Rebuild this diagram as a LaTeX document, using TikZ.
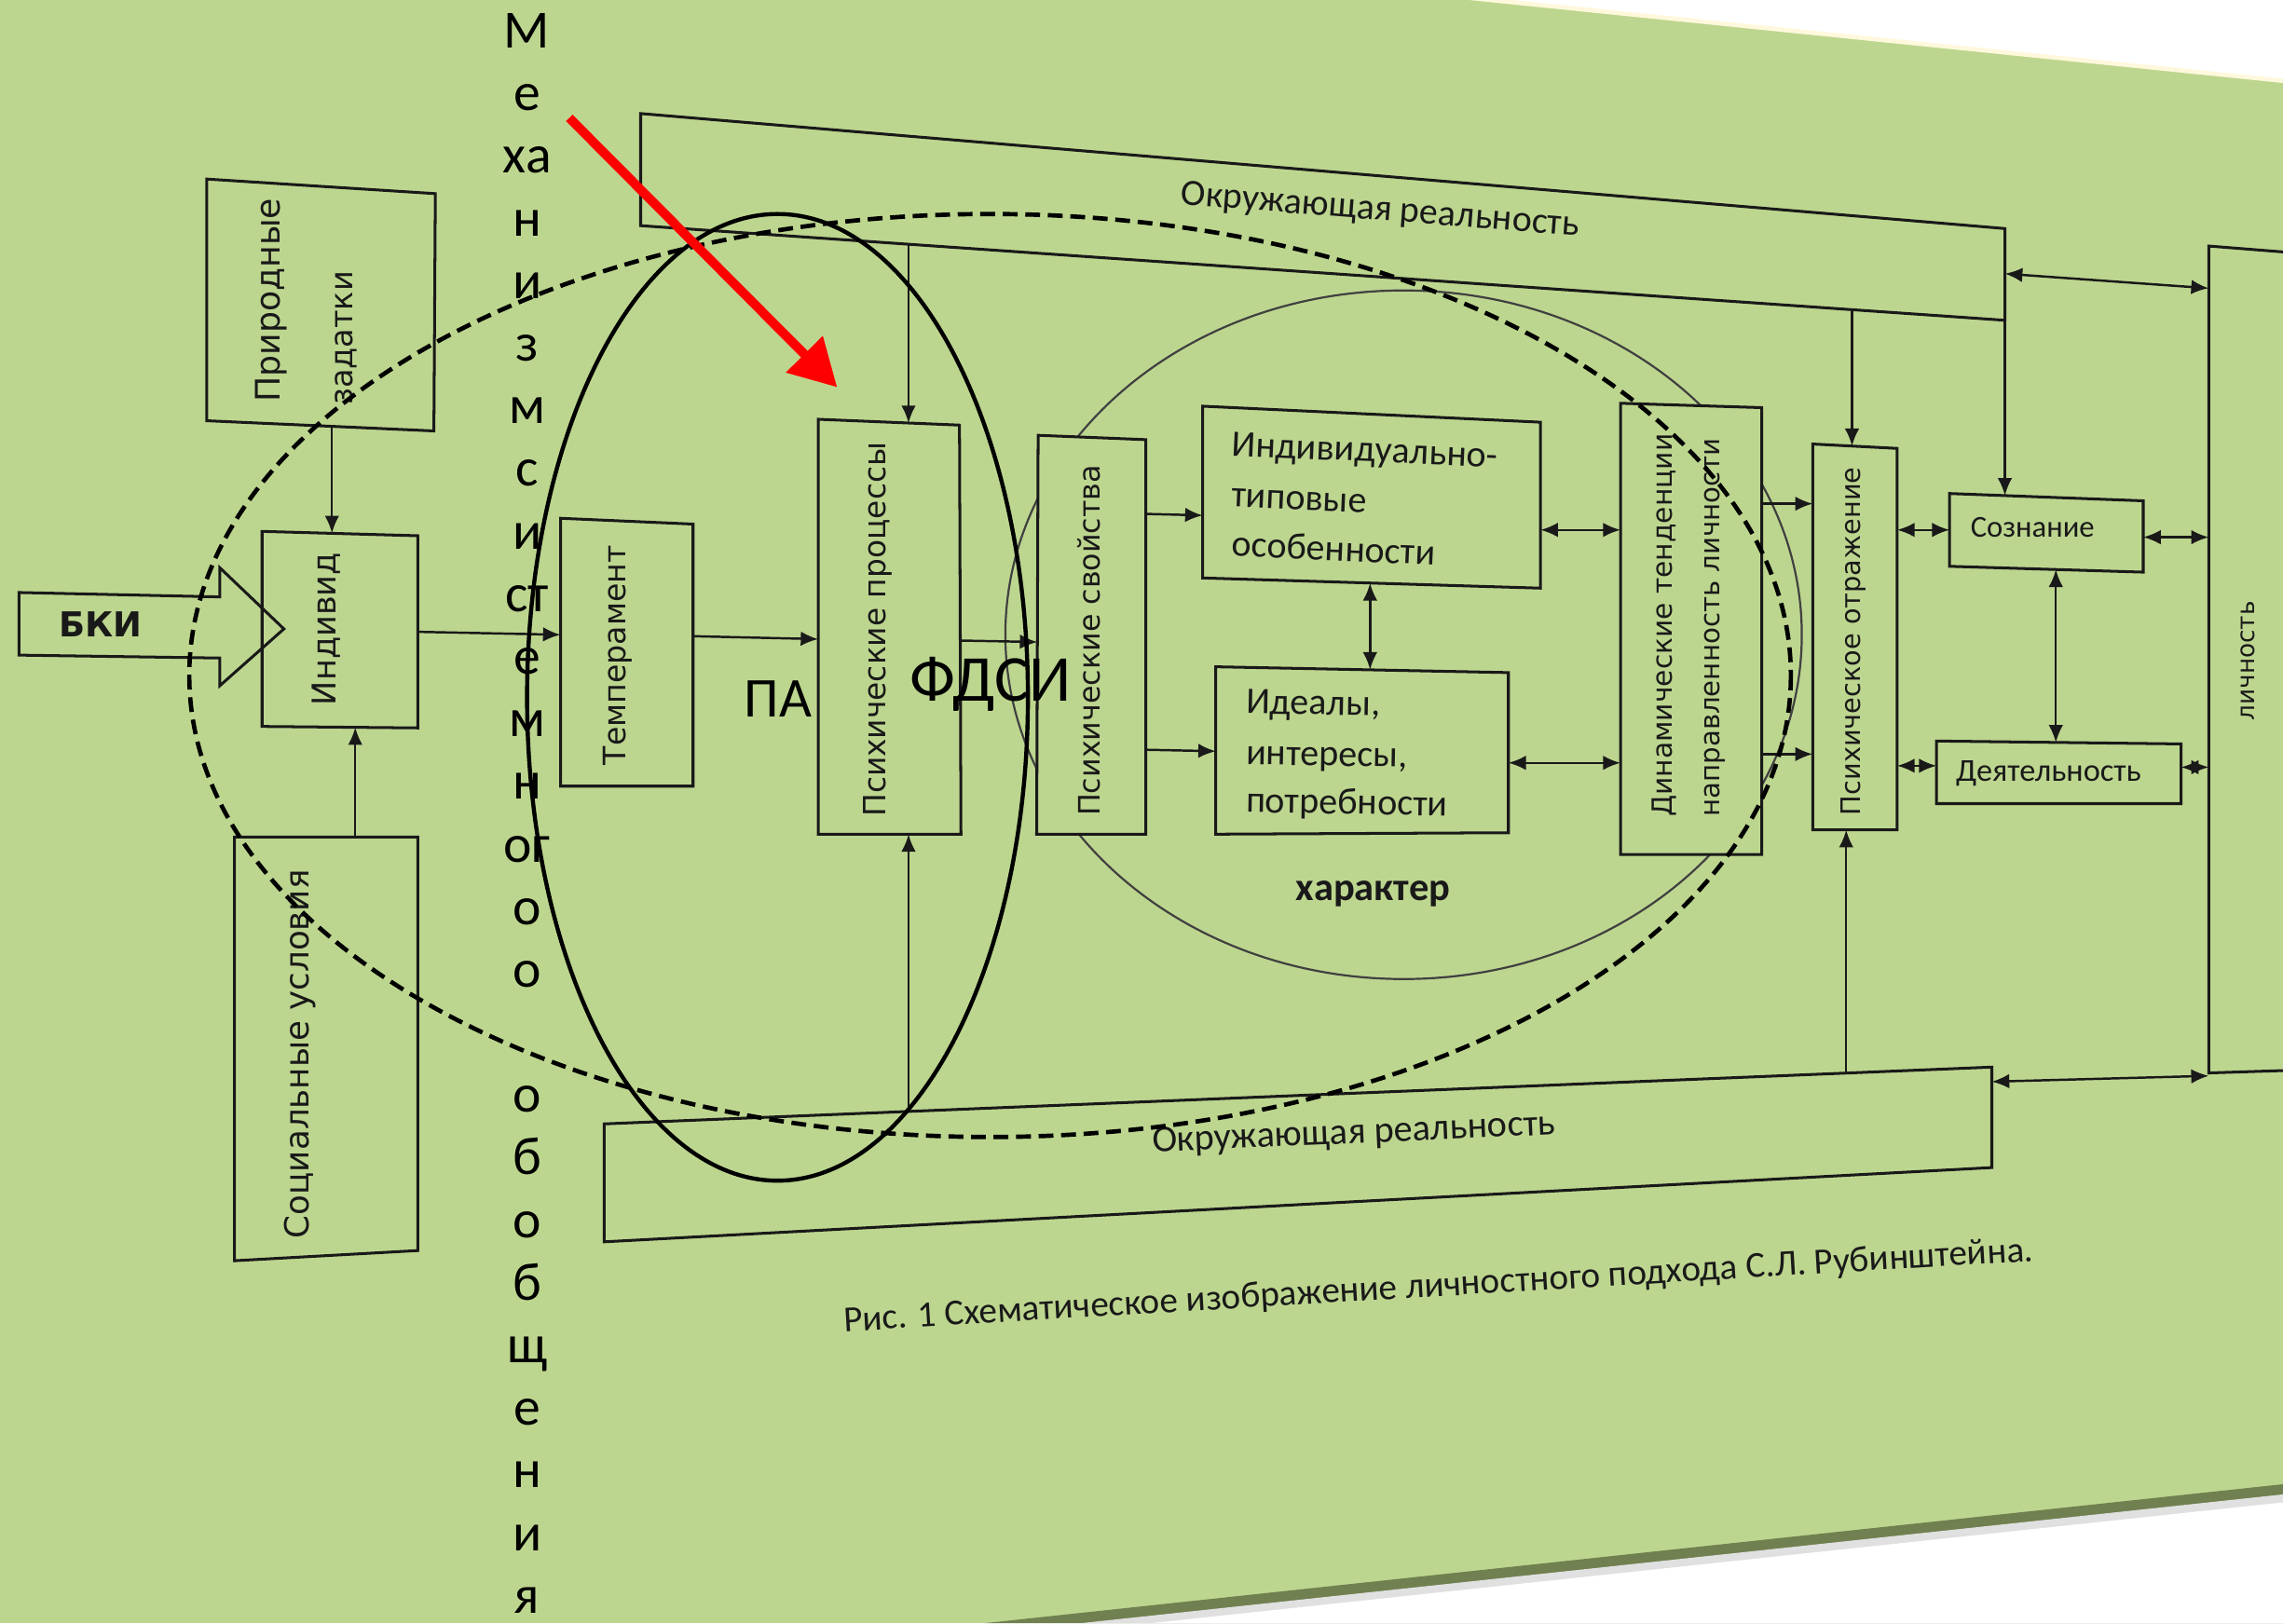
\documentclass[tikz,border=0pt]{standalone}
\usepackage{fontspec}
\usepackage{graphicx}
\setmainfont{Carlito}
\newfontfamily\dvfont{DejaVu Sans}
\usetikzlibrary{arrows.meta}
\definecolor{bg}{RGB}{189,214,143}
\definecolor{lc}{RGB}{25,25,25}
\definecolor{olivestrip}{RGB}{112,128,80}
\definecolor{creamline}{RGB}{255,248,220}
\newcommand{\fitw}[2]{\resizebox{#1}{!}{#2}}
\begin{document}
\begin{tikzpicture}[x=0.01cm,y=-0.01cm,
  box/.style={draw=lc,line width=0.55pt,fill=bg},
  conn/.style={draw=lc,line width=0.45pt,-{Latex[length=1.2mm,width=1mm]}},
  dconn/.style={draw=lc,line width=0.45pt,{Latex[length=1.2mm,width=1mm]}-{Latex[length=1.2mm,width=1mm]}},
  vtext/.style={rotate=90,inner sep=0pt,font=\dvfont,text=lc},
  htext/.style={inner sep=0pt,text=lc},
  mech/.style={inner sep=0pt,anchor=base,font=\fontsize{10.5}{12}\selectfont,text=black}
]
\useasboundingbox (0,0) rectangle (1568,1115);
% page background
\fill[bg] (0,0) rectangle (1568,1115);
\fill[creamline] (1009,0) -- (1568,0) -- (1568,57) -- cycle;
\fill[white] (1039,0) -- (1568,0) -- (1568,54) -- cycle;
\fill[olivestrip] (676,1115) -- (1568,1019.5) -- (1568,1115) -- cycle;
\fill[black!12] (742,1115) -- (1568,1026.5) -- (1568,1115) -- cycle;
\fill[white] (790,1115) -- (1568,1032) -- (1568,1115) -- cycle;

% character ellipse (behind boxes)
\draw[line width=0.4pt,draw=black!75] (964,436) ellipse [x radius=273.5, y radius=236.5];

% ---------- box corners ----------
\coordinate (top-tl) at (440,78);   \coordinate (top-tr) at (1377,157);
\coordinate (top-br) at (1377,220); \coordinate (top-bl) at (440,155);
\coordinate (bot-tl) at (415,772);  \coordinate (bot-tr) at (1368,733);
\coordinate (bot-br) at (1368,802); \coordinate (bot-bl) at (415,853);
\coordinate (pri-tl) at (142,123);  \coordinate (pri-tr) at (299,133);
\coordinate (pri-br) at (298,296);  \coordinate (pri-bl) at (142,289);
\coordinate (ind-tl) at (180,365);  \coordinate (ind-tr) at (287,368);
\coordinate (ind-br) at (287,500);  \coordinate (ind-bl) at (180,499);
\coordinate (soc-tl) at (161,575);  \coordinate (soc-tr) at (287,575);
\coordinate (soc-br) at (287,859);  \coordinate (soc-bl) at (161,866);
\coordinate (tem-tl) at (385,356);  \coordinate (tem-tr) at (476,360);
\coordinate (tem-br) at (476,540);  \coordinate (tem-bl) at (385,540);
\coordinate (pp-tl) at (562,288);   \coordinate (pp-tr) at (659,292);
\coordinate (pp-br) at (660,573);   \coordinate (pp-bl) at (562,573);
\coordinate (ps-tl) at (713,299);   \coordinate (ps-tr) at (787,302);
\coordinate (ps-br) at (787,573);   \coordinate (ps-bl) at (712,573);
\coordinate (ito-tl) at (826,279);  \coordinate (ito-tr) at (1058,290);
\coordinate (ito-br) at (1058,404); \coordinate (ito-bl) at (826,397);
\coordinate (id-tl) at (835,458);   \coordinate (id-tr) at (1036,462);
\coordinate (id-br) at (1036,572);  \coordinate (id-bl) at (835,573);
\coordinate (dyn-tl) at (1113,277); \coordinate (dyn-tr) at (1210,280);
\coordinate (dyn-br) at (1210,587); \coordinate (dyn-bl) at (1113,587);
\coordinate (po-tl) at (1245,305);  \coordinate (po-tr) at (1303,308);
\coordinate (po-br) at (1303,570);  \coordinate (po-bl) at (1245,570);
\coordinate (soz-tl) at (1339,339); \coordinate (soz-tr) at (1472,344);
\coordinate (soz-br) at (1472,393); \coordinate (soz-bl) at (1339,389);
\coordinate (dea-tl) at (1330,509); \coordinate (dea-tr) at (1498,511);
\coordinate (dea-br) at (1498,552); \coordinate (dea-bl) at (1330,552);
\coordinate (li-tl) at (1517,169);  \coordinate (li-bl) at (1517,737);
\coordinate (li-tr) at (1580,174);  \coordinate (li-brr) at (1580,735);

% ---------- boxes ----------
\draw[box] (top-tl) -- (top-tr) -- (top-br) -- (top-bl) -- cycle;
\draw[box] (bot-tl) -- (bot-tr) -- (bot-br) -- (bot-bl) -- cycle;
\draw[box] (pri-tl) -- (pri-tr) -- (pri-br) -- (pri-bl) -- cycle;
\draw[box] (ind-tl) -- (ind-tr) -- (ind-br) -- (ind-bl) -- cycle;
\draw[box] (soc-tl) -- (soc-tr) -- (soc-br) -- (soc-bl) -- cycle;
\draw[box] (tem-tl) -- (tem-tr) -- (tem-br) -- (tem-bl) -- cycle;
\draw[box] (pp-tl) -- (pp-tr) -- (pp-br) -- (pp-bl) -- cycle;
\draw[box] (ps-tl) -- (ps-tr) -- (ps-br) -- (ps-bl) -- cycle;
\draw[box] (ito-tl) -- (ito-tr) -- (ito-br) -- (ito-bl) -- cycle;
\draw[box] (id-tl) -- (id-tr) -- (id-br) -- (id-bl) -- cycle;
\draw[box] (dyn-tl) -- (dyn-tr) -- (dyn-br) -- (dyn-bl) -- cycle;
\draw[box] (po-tl) -- (po-tr) -- (po-br) -- (po-bl) -- cycle;
\draw[box] (soz-tl) -- (soz-tr) -- (soz-br) -- (soz-bl) -- cycle;
\draw[box] (dea-tl) -- (dea-tr) -- (dea-br) -- (dea-bl) -- cycle;
\draw[box] (li-tr) -- (li-tl) -- (li-bl) -- (li-brr);

% БКИ block arrow
\draw[draw=lc,line width=0.55pt,line join=miter]
  (13,407) -- (151,410) -- (151,390) -- (195,432) -- (151,471) -- (151,452) -- (13,450) -- cycle;

% ---------- connector end points ----------
\coordinate (pri-s) at (228,293);   \coordinate (ind-n) at (228,366.3);
\coordinate (soc-n) at (244,575);   \coordinate (ind-s) at (244,499.6);
\coordinate (ind-e) at (287,434);   \coordinate (tem-w) at (385,436);
\coordinate (tem-e) at (476,437);   \coordinate (pp-w) at (562,439);
\coordinate (top-s1) at (624,167.8); \coordinate (pp-n) at (624,290.6);
\coordinate (bot-n1) at (624,763.4); \coordinate (pp-s) at (624,573);
\coordinate (pp-e) at (660,440);    \coordinate (ps-w) at (712.5,441);
\coordinate (ps-e1) at (787,353);   \coordinate (ito-w) at (826,354);
\coordinate (ps-e2) at (787,515);   \coordinate (id-w) at (835,516);
\coordinate (ito-s) at (941,400.5); \coordinate (id-n) at (941,460);
\coordinate (ito-e) at (1058,364);  \coordinate (dyn-w1) at (1113,364);
\coordinate (id-e) at (1036,524);   \coordinate (dyn-w2) at (1113,524);
\coordinate (dyn-e1) at (1210,346); \coordinate (po-w1) at (1245,346);
\coordinate (dyn-e2) at (1210,518); \coordinate (po-w2) at (1245,518);
\coordinate (top-s2) at (1272,212.7); \coordinate (po-n) at (1272,306.4);
\coordinate (bot-n2) at (1268,737.1); \coordinate (po-s) at (1268,570);
\coordinate (soz-n) at (1377,340.4);
\coordinate (top-e) at (1377,188);  \coordinate (li-w1) at (1517,198);
\coordinate (po-e1) at (1303,364);  \coordinate (soz-w) at (1339,364);
\coordinate (soz-e) at (1472,369);  \coordinate (li-w2) at (1517,369);
\coordinate (soz-s) at (1412,391.2); \coordinate (dea-n) at (1412,510);
\coordinate (po-e2) at (1303,526);  \coordinate (dea-w) at (1330,526);
\coordinate (dea-e) at (1498,527);  \coordinate (li-w3) at (1517,527);
\coordinate (bot-e) at (1368,743);  \coordinate (li-w4) at (1517,739);

% ---------- connectors ----------
\draw[conn] (pri-s) -- (ind-n);
\draw[conn] (soc-n) -- (ind-s);
\draw[conn] (ind-e) -- (tem-w);
\draw[conn] (tem-e) -- (pp-w);
\draw[conn] (top-s1) -- (pp-n);
\draw[conn] (bot-n1) -- (pp-s);
\draw[conn] (pp-e) -- (ps-w);
\draw[conn] (ps-e1) -- (ito-w);
\draw[conn] (ps-e2) -- (id-w);
\draw[dconn] (ito-s) -- (id-n);
\draw[dconn] (ito-e) -- (dyn-w1);
\draw[dconn] (id-e) -- (dyn-w2);
\draw[conn] (dyn-e1) -- (po-w1);
\draw[conn] (dyn-e2) -- (po-w2);
\draw[conn] (top-s2) -- (po-n);
\draw[conn] (bot-n2) -- (po-s);
\draw[conn] (top-br) -- (soz-n);
\draw[dconn] (top-e) -- (li-w1);
\draw[dconn] (po-e1) -- (soz-w);
\draw[dconn] (soz-e) -- (li-w2);
\draw[dconn] (soz-s) -- (dea-n);
\draw[dconn] (po-e2) -- (dea-w);
\draw[dconn] (dea-e) -- (li-w3);
\draw[dconn] (bot-e) -- (li-w4);

% ---------- texts ----------
\node[vtext,anchor=west] (t-pri1) at (186,277) {\fitw{1.40cm}{Природные}};
\node[vtext,anchor=west] (t-pri2) at (238,279) {\fitw{0.92cm}{задатки}};
\node[vtext] (t-ind) at (224,432) {\fitw{1.05cm}{Индивид}};
\node[vtext] (t-soc) at (206,724) {\fitw{2.53cm}{Социальные условия}};
\node[vtext] (t-tem) at (424.5,450) {\fitw{1.51cm}{Темперамент}};
\node[vtext] (t-pp) at (603,432.5) {\fitw{2.57cm}{Психические процессы}};
\node[vtext] (t-ps) at (748,440) {\fitw{2.41cm}{Психические свойства}};
\node[vtext] (t-dyn1) at (1143,429.5) {\fitw{2.63cm}{Динамические тенденции}};
\node[vtext] (t-dyn2) at (1178,431) {\fitw{2.60cm}{направленность личности}};
\node[vtext] (t-po) at (1273,440.5) {\fitw{2.39cm}{Психическое отражение}};
\node[vtext] (t-li) at (1544,454) {\fitw{0.82cm}{личность}};

\node[htext,rotate=-4.5] (t-top) at (948,145) {\fitw{2.74cm}{Окружающая реальность}};
\node[htext,rotate=2.5] (t-bot) at (930,779) {\fitw{2.77cm}{Окружающая реальность}};
\node[htext,rotate=3.4] (t-cap) at (988,884) {\fitw{8.18cm}{Рис. 1 Схематическое изображение личностного подхода С.Л. Рубинштейна.}};
\node[htext] (t-soz) at (1396,362) {\fitw{0.85cm}{Сознание}};
\node[htext] (t-dea) at (1407,531) {\fitw{1.27cm}{Деятельность}};
\node[htext] (t-char) at (943,614) {\fitw{1.06cm}{\bfseries характер}};
\node[htext] (t-bki) at (69,429) {\fitw{0.57cm}{\dvfont\bfseries БКИ}};

\node[htext,anchor=base west,rotate=-2.5,font=\fontsize{7.3}{9}\selectfont] (t-ito1) at (845,313) {Индивидуально-};
\node[htext,anchor=base west,rotate=-2.5,font=\fontsize{7.3}{9}\selectfont] (t-ito2) at (845,348) {типовые};
\node[htext,anchor=base west,rotate=-2.5,font=\fontsize{7.3}{9}\selectfont] (t-ito3) at (845,382) {особенности};
\node[htext,anchor=base west,rotate=-1,font=\fontsize{7.3}{9}\selectfont] (t-id1) at (855,490) {Идеалы,};
\node[htext,anchor=base west,rotate=-1,font=\fontsize{7.3}{9}\selectfont] (t-id2) at (855,525) {интересы,};
\node[htext,anchor=base west,rotate=-1,font=\fontsize{7.3}{9}\selectfont] (t-id3) at (855,558) {потребности};

\node[htext,anchor=base,font=\fontsize{11}{13}\selectfont,text=black] (t-pa) at (534.5,492.5) {ПА};
\node[htext,anchor=base,font=\fontsize{12.8}{15}\selectfont,text=black] (t-fdsi) at (680.5,481.5) {ФДСИ};

% vertical label "Механизм системного обобщения"
\foreach \k/\t in {0/М,1/е,2/ха,3/н,4/и,5/з,6/м,7/с,8/и,9/ст,10/е,11/м,12/н,13/ог,14/о,15/о,17/о,18/б,19/о,20/б,21/щ,22/е,23/н,24/и,25/я}
  \node[mech] (mech\k) at (362,{33+43*\k}) {\t};

% ellipses on top
\draw[line width=0.85pt,dash pattern=on 2.9pt off 1.5pt] (680,464) ellipse [x radius=550, y radius=317];
\draw[line width=0.8pt] (534,479) ellipse [x radius=172, y radius=332];

% red arrow
\coordinate (red-s) at (391,81);
\coordinate (red-e) at (575,266);
\draw[red,line width=1.8pt,-{Triangle[length=3.2mm,width=3.4mm]}] (red-s) -- (red-e);
\end{tikzpicture}
\end{document}
